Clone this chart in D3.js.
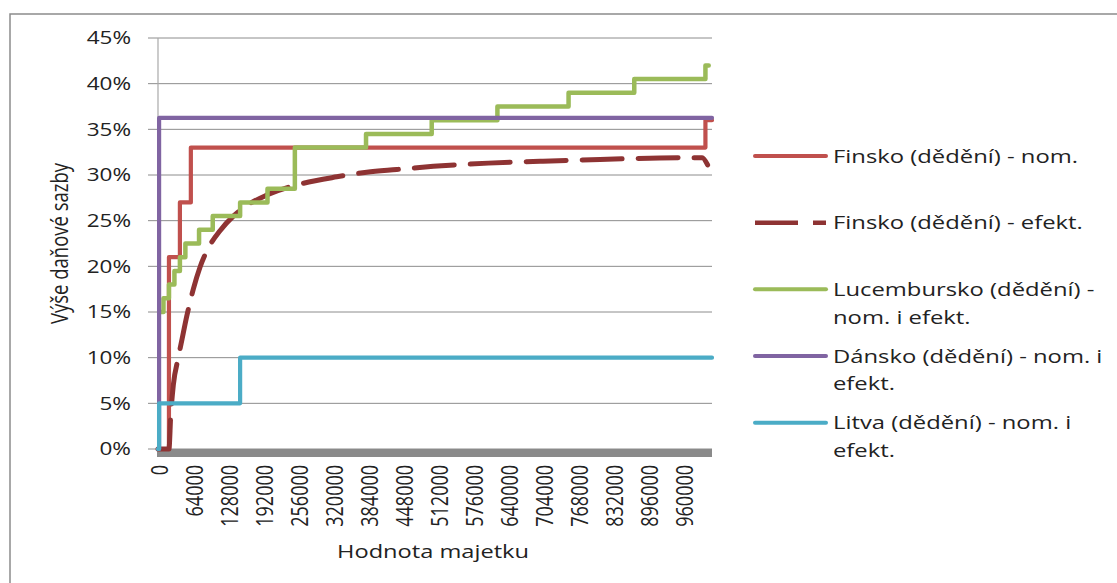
<!DOCTYPE html>
<html>
<head>
<meta charset="utf-8">
<script src="https://cdn.jsdelivr.net/npm/d3@7"></script>
<style>
  body { margin: 0; background: #ffffff; }
  svg { display: block; }
  text { font-family: 'Open Sans', 'Noto Sans', sans-serif; fill: #222; }
</style>
</head>
<body>
<svg id="chart" width="1117" height="583"></svg>
<script>
// ---------- data ----------
const xTickValues = [0, 64000, 128000, 192000, 256000, 320000, 384000, 448000, 512000,
                     576000, 640000, 704000, 768000, 832000, 896000, 960000];
const yTickValues = [0, 5, 10, 15, 20, 25, 30, 35, 40, 45];
const xMax = 1012000;

const seriesNames = [
  ["Finsko (dědění) - nom."],
  ["Finsko (dědění) - efekt."],
  ["Lucembursko (dědění) -", "nom. i efekt."],
  ["Dánsko (dědění) - nom. i", "efekt."],
  ["Litva (dědění) - nom. i", "efekt."]
];

// step series: [asset value, rate %] at each change point
const finskoNom = [[0, 0], [20000, 21], [40000, 27], [60000, 33], [1000000, 36], [1012000, 36]];
const finskoEfekt = [[0, 0], [20000, 0], [23200, 3.6], [28000, 7.0], [37100, 10.0], [46200, 12.7],
  [52400, 14.5], [64500, 17.5], [76700, 19.9], [91900, 22.0], [113300, 23.9], [137600, 25.5],
  [155800, 26.4], [198600, 27.8], [259400, 29.0], [326500, 29.8], [381300, 30.3], [436100, 30.6],
  [503000, 30.95], [603400, 31.3], [697900, 31.5], [807500, 31.7], [972000, 31.9], [994000, 31.9],
  [1004000, 31.1]];
const lucembursko = [[2000, 15], [10000, 16.5], [20000, 18], [30000, 19.5], [40000, 21], [50000, 22.5],
  [75000, 24], [100000, 25.5], [150000, 27], [200000, 28.5], [250000, 33], [380000, 34.5],
  [500000, 36], [620000, 37.5], [750000, 39], [870000, 40.5], [1000000, 42], [1006000, 42]];
const dansko = [[0, 0], [2000, 36.25], [1012000, 36.25]];
const litva = [[0, 0], [2000, 5], [150000, 10], [1012000, 10]];

// ---------- layout ----------
const svg = d3.select("#chart");
const SX = 1.28; // horizontal stretch of the lettering in the reference
const x = d3.scaleLinear().domain([0, xMax]).range([158, 712]);
const y = d3.scaleLinear().domain([0, 45]).range([449, 38]);

// outer frame
svg.append("path").attr("d", "M10,583V14H1117").attr("fill", "none")
  .attr("stroke", "#8c8c8c").attr("stroke-width", 1.5);

// gridlines + y tick marks
svg.append("g").selectAll("line").data(yTickValues).join("line")
  .attr("x1", 148).attr("x2", 712).attr("y1", d => y(d)).attr("y2", d => y(d))
  .attr("stroke", "#8c8c8c").attr("stroke-width", 1);

// vertical axis line
svg.append("line").attr("x1", 158).attr("x2", 158).attr("y1", y(45)).attr("y2", y(0))
  .attr("stroke", "#a9a9a9").attr("stroke-width", 1.2);

// y tick labels
svg.append("g").selectAll("text").data(yTickValues).join("text")
  .attr("transform", d => `translate(131,${y(d)}) scale(${SX},1)`)
  .attr("text-anchor", "end").attr("dy", "0.36em")
  .style("font-size", "17.6px")
  .text(d => d + "%");

// thick x axis band
svg.append("line").attr("x1", x(0) - 1).attr("x2", 712).attr("y1", 453).attr("y2", 453)
  .attr("stroke", "#8a8a8a").attr("stroke-width", 8);

// x tick labels (rotated)
svg.append("g").selectAll("text").data(xTickValues).join("text")
  .attr("transform", d => `translate(${x(d) + 1.5},465) scale(${SX},1) rotate(-90)`)
  .attr("text-anchor", "end").attr("dy", "0.36em")
  .style("font-size", "18px")
  .text(d => d);

// axis titles
svg.append("text")
  .attr("transform", `translate(${(158 + 712) / 2 - 2},558) scale(1.27,1)`)
  .attr("text-anchor", "middle").style("font-size", "18.6px")
  .text("Hodnota majetku");
svg.append("text")
  .attr("transform", `translate(68,${(38 + 449) / 2}) scale(${SX},1) rotate(-90)`)
  .attr("text-anchor", "middle").style("font-size", "18.5px")
  .text("Výše daňové sazby");

// ---------- series ----------
const stepLine = d3.line().x(d => x(d[0])).y(d => y(d[1])).curve(d3.curveStepAfter);
const smoothLine = d3.line().x(d => x(d[0])).y(d => y(d[1])).curve(d3.curveMonotoneX);

const colors = ["#c0504d", "#8e3333", "#9bbb59", "#8064a2", "#4bacc6"];
const series = [
  { data: finskoNom, gen: stepLine, dash: null, w: 4.2 },
  { data: finskoEfekt, gen: smoothLine, dash: "40,16", w: 5 },
  { data: lucembursko, gen: stepLine, dash: null, w: 4.5 },
  { data: dansko, gen: stepLine, dash: null, w: 4.2 },
  { data: litva, gen: stepLine, dash: null, w: 4.2 }
];
series.forEach((s, i) => {
  svg.append("path").datum(s.data).attr("d", s.gen)
    .attr("fill", "none").attr("stroke", colors[i]).attr("stroke-width", s.w)
    .attr("stroke-linejoin", "round").attr("stroke-linecap", "round")
    .attr("stroke-dasharray", s.dash);
});

// ---------- legend ----------
const leg = svg.append("g");
seriesNames.forEach((lines, i) => {
  const cy = 156 + i * 66.67;
  leg.append("line").attr("x1", 755).attr("x2", 826).attr("y1", cy).attr("y2", cy)
    .attr("stroke", colors[i]).attr("stroke-width", i === 1 ? 4.5 : 4)
    .attr("stroke-linecap", i === 1 ? "butt" : "round")
    .attr("stroke-dasharray", i === 1 ? "43,15" : null);
  lines.forEach((t, j) => {
    leg.append("text")
      .attr("transform", `translate(833,${cy + j * 27.5}) scale(${SX},1)`)
      .attr("dy", "0.36em").style("font-size", "18.6px")
      .text(t);
  });
});
</script>
</body>
</html>
